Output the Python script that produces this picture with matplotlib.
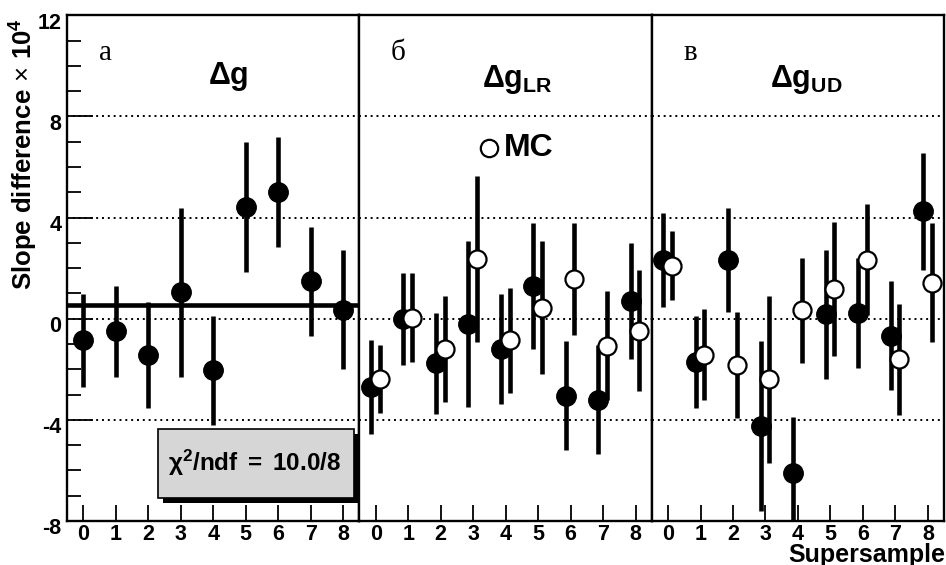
#!/usr/bin/env python3
"""
Slope difference per supersample: data vs MC, three panels.
"""

import numpy as np
import matplotlib.pyplot as plt
import matplotlib.transforms as mtransforms
from matplotlib.patches import Rectangle

plt.rcParams['font.family'] = ['Liberation Sans', 'DejaVu Sans']
plt.rcParams['mathtext.fontset'] = 'custom'
plt.rcParams['mathtext.rm'] = 'Liberation Sans'
plt.rcParams['mathtext.bf'] = 'Liberation Sans:bold'
plt.rcParams['mathtext.it'] = 'Liberation Sans:italic'

samples = np.arange(9)

# panel a: delta g
dg_val = [-0.86, -0.5, -1.43, 1.04, -2.04, 4.43, 5.0, 1.47, 0.36]
dg_err = [1.85, 1.8, 2.1, 3.35, 2.15, 2.57, 2.17, 2.15, 2.35]
dg_fit = 0.53
chi2_text = r"$\mathbf{\chi^2/ndf\ =\ 10.0/8}$"

# panel b: delta g_LR
lr_val = [-2.71, 0.0, -1.76, -0.21, -1.21, 1.29, -3.04, -3.21, 0.71]
lr_err = [1.85, 1.82, 2.0, 3.3, 2.17, 2.5, 2.15, 2.15, 2.3]
lr_mc_val = [-2.39, 0.04, -1.21, 2.36, -0.86, 0.43, 1.57, -1.07, -0.47]
lr_mc_err = [1.36, 1.75, 2.1, 3.3, 2.07, 2.63, 2.2, 2.15, 2.4]

# panel c: delta g_UD
ud_val = [2.33, -1.71, 2.33, -4.24, -6.1, 0.17, 0.21, -0.67, 4.24]
ud_err = [1.85, 1.83, 2.05, 3.35, 2.2, 2.55, 2.17, 2.15, 2.33]
ud_mc_val = [2.1, -1.43, -1.83, -2.39, 0.33, 1.17, 2.33, -1.61, 1.43]
ud_mc_err = [1.36, 1.8, 2.1, 3.3, 2.07, 2.65, 2.2, 2.2, 2.35]

panel_letters = ["а", "б", "в"]
panel_titles = [r"$\mathbf{\Delta g}$", r"$\mathbf{\Delta g_{LR}}$",
                r"$\mathbf{\Delta g_{UD}}$"]
title_x = [4.45, 4.35, 4.25]
title_y = [9.57, 9.45, 9.45]

fig = plt.figure(figsize=(9.46, 5.65), dpi=100)
left, right, bottom, top = 0.071, 0.998, 0.078, 0.973
width = (right - left) / 3
axes = [fig.add_axes([left + i * width, bottom, width, top - bottom])
        for i in range(3)]

filled = dict(fmt='o', ms=14, mfc='black', mec='black', ecolor='black',
              elinewidth=3.3, capsize=0, zorder=3)
opened = dict(fmt='o', ms=13, mfc='white', mec='black', mew=1.6,
              ecolor='black', elinewidth=3.3, capsize=0, zorder=4)

# ROOT-style labels sit a little below their ticks
ylab_shift = mtransforms.ScaledTranslation(0, -0.055, fig.dpi_scale_trans)

for i, ax in enumerate(axes):
    ax.set_xlim(-0.5, 8.5)
    ax.set_ylim(-8, 12)
    for y in [-4, 0, 4, 8]:
        ax.axhline(y, color='black', ls=(0, (1, 2)), lw=1.4, zorder=1)
    for s in ax.spines.values():
        s.set_linewidth(1.7)
    ax.set_xticks(samples)
    ax.set_xticklabels([str(s) for s in samples], fontsize=15.5,
                       fontweight='bold')
    ax.tick_params(axis='x', direction='in', length=11.5, width=1.3, pad=2)
    if i == 0:
        ax.set_yticks([-8, -4, 0, 4, 8, 12])
        ax.set_yticks(np.arange(-8, 13, 1), minor=True)
        ax.set_yticklabels(['-8', '-4', '0', '4', '8', '12'], fontsize=15.5,
                           fontweight='bold')
        ax.tick_params(axis='y', which='major', direction='in', length=19,
                       width=1.3, pad=4)
        ax.tick_params(axis='y', which='minor', direction='in', length=10,
                       width=1.3)
        for lbl in ax.get_yticklabels():
            lbl.set_transform(lbl.get_transform() + ylab_shift)
    else:
        ax.set_yticks([])
    ax.text(0.68, 10.5, panel_letters[i], fontsize=21,
            family=['Liberation Serif', 'DejaVu Serif'],
            ha='center', va='center')
    ax.text(title_x[i], title_y[i], panel_titles[i], fontsize=22,
            ha='center', va='center')

# panel a
ax = axes[0]
ax.errorbar(samples, dg_val, yerr=dg_err, **filled)
ax.axhline(dg_fit, color='black', lw=3.3, zorder=2)
ax.add_patch(Rectangle((2.45, -7.29), 6.03, 2.73, facecolor='black',
                       edgecolor='black', lw=0, zorder=5))
ax.add_patch(Rectangle((2.29, -7.09), 6.03, 2.73, facecolor='#d6d6d6',
                       edgecolor='black', lw=1.2, zorder=6))
ax.text(5.26, -5.72, chi2_text, fontsize=17.5, ha='center', va='center',
        zorder=7)

# panel b
ax = axes[1]
ax.errorbar(samples - 0.15, lr_val, yerr=lr_err, **filled)
ax.errorbar(samples + 0.12, lr_mc_val, yerr=lr_mc_err, **opened)
ax.plot([3.5], [6.76], 'o', ms=12.5, mfc='white', mec='black', mew=1.6)
ax.text(3.95, 6.76, "MC", fontsize=23, fontweight='bold', ha='left',
        va='center')

# panel c
ax = axes[2]
ax.errorbar(samples - 0.15, ud_val, yerr=ud_err, **filled)
ax.errorbar(samples + 0.12, ud_mc_val, yerr=ud_mc_err, **opened)

fig.text(0.025, 0.727, r"Slope difference$\,\times\,$10$^{\mathbf{4}}$",
         rotation=90, fontsize=18.5, fontweight='bold', ha='center',
         va='center')
fig.text(0.999, 0.018, "Supersample", fontsize=18, fontweight='bold',
         ha='right', va='center')

fig.savefig("out.png", dpi=100)
